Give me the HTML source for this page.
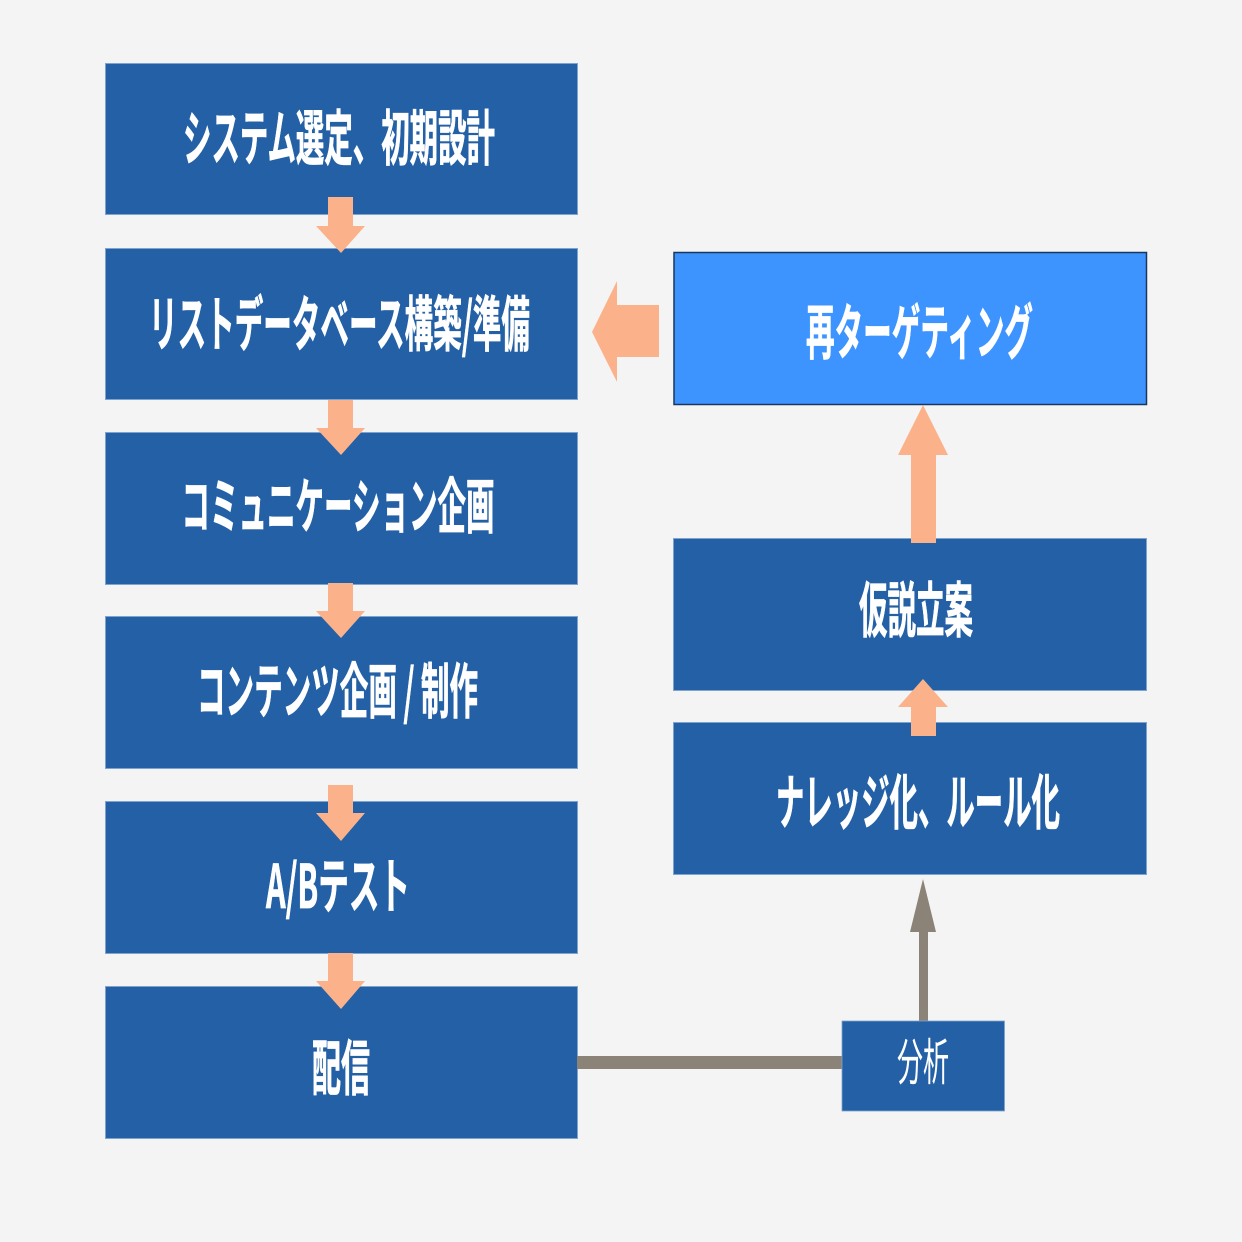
<!DOCTYPE html>
<html lang="ja">
<head>
<meta charset="utf-8">
<style>
html,body{margin:0;padding:0;background:#f4f4f4;}
svg{display:block;}
text{font-family:"Noto Sans CJK JP",sans-serif;fill:#fff;stroke:#fff;stroke-width:0.8px;font-weight:700;font-size:60px;}
</style>
</head>
<body>
<svg width="1242" height="1242" viewBox="0 0 1242 1242" xmlns="http://www.w3.org/2000/svg">
<rect width="1242" height="1242" fill="#f4f4f4"/>
<g fill="#2360a5" stroke="#7ea3cf" stroke-width="1">
<rect x="105.5" y="63.5" width="472" height="151"/>
<rect x="105.5" y="248.5" width="472" height="151"/>
<rect x="105.5" y="432.5" width="472" height="152"/>
<rect x="105.5" y="616.5" width="472" height="152"/>
<rect x="105.5" y="801.5" width="472" height="152"/>
<rect x="105.5" y="986.5" width="472" height="152"/>
<rect x="673.5" y="538.5" width="473" height="152"/>
<rect x="673.5" y="722.5" width="473" height="152"/>
</g>
<rect x="674" y="252.5" width="472.5" height="152" fill="#3d94ff" stroke="#17375e" stroke-width="1.5"/>
<g fill="#8b8377">
<rect x="577" y="1056" width="266" height="13"/>
<polygon points="923,879 936,932 928,932 928,1022 919,1022 919,932 910,932"/>
</g>
<rect x="842" y="1021" width="162.5" height="90" fill="#2360a5" stroke="#7ea3cf" stroke-width="0.8"/>
<g fill="#fbb28b">
<polygon points="328,197 353,197 353,226 365,226 341,253 316,226 328,226"/>
<polygon points="328,400 353,400 353,428 365,428 341,455 316,428 328,428"/>
<polygon points="328,583 353,583 353,611 365,611 341,638 316,611 328,611"/>
<polygon points="328,785 353,785 353,813 365,813 341,841 316,813 328,813"/>
<polygon points="328,953 353,953 353,981 365,981 341,1009 316,981 328,981"/>
<polygon points="592,332 617,281 617,305 659,305 659,357 617,357 617,382"/>
<polygon points="923,405 948,455 936,455 936,543 911,543 911,455 898,455"/>
<polygon points="923,679 948,707 936,707 936,736 911,736 911,707 898,707"/>
</g>
<text x="183" y="160" textLength="312" lengthAdjust="spacingAndGlyphs">システム選定、初期設計</text>
<text x="149" y="346" textLength="381" lengthAdjust="spacingAndGlyphs">リストデータベース構築/準備</text>
<text x="181.5" y="528" textLength="313" lengthAdjust="spacingAndGlyphs">コミュニケーション企画</text>
<text x="197" y="713" textLength="281" lengthAdjust="spacingAndGlyphs">コンテンツ企画 / 制作</text>
<text x="266" y="908" textLength="144" lengthAdjust="spacingAndGlyphs">A/Bテスト</text>
<text x="312" y="1090" textLength="58" lengthAdjust="spacingAndGlyphs">配信</text>
<text x="806" y="354" textLength="227" lengthAdjust="spacingAndGlyphs">再ターゲティング</text>
<text x="859" y="632" textLength="114" lengthAdjust="spacingAndGlyphs">仮説立案</text>
<text x="776" y="824" textLength="284" lengthAdjust="spacingAndGlyphs">ナレッジ化、ルール化</text>
<text x="897" y="1080" textLength="52" lengthAdjust="spacingAndGlyphs" style="font-weight:400;font-size:50px;stroke-width:0">分析</text>
</svg>
</body>
</html>
